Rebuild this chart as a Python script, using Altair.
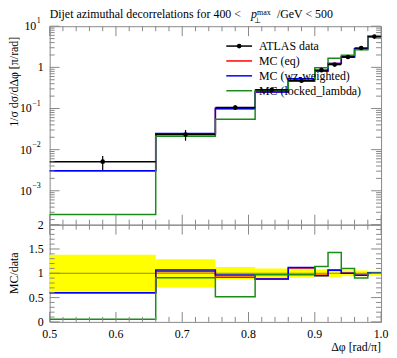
import altair as alt
import pandas as pd

# ---- data ----
edges = [0.5, 0.66, 0.75, 0.81, 0.86, 0.90, 0.92, 0.94, 0.96, 0.98, 1.0]
data_vals = [5.1e-3, 0.0232, 0.106, 0.285, 0.473, 0.855, 1.17, 1.79, 2.95, 5.6]
data_relerr = [0.38, 0.29, 0.13, 0.10, 0.09, 0.08, 0.08, 0.06, 0.06, 0.05]
mc_eq = [3.06e-3, 0.0241, 0.0975, 0.251, 0.525, 0.82, 1.25, 1.79, 2.83, 5.66]
mc_wz = [3.06e-3, 0.0248, 0.102, 0.251, 0.530, 0.81, 1.24, 1.79, 2.83, 5.66]
mc_locked = [2.65e-4, 0.0211, 0.055, 0.277, 0.459, 0.975, 1.67, 1.97, 2.66, 5.6]

series_names = ["MC (eq)", "MC (wz-weighted)", "MC (locked_lambda)"]
series_colors = ["#ff0000", "#0000ff", "#1a8c1a"]
series_vals = [mc_eq, mc_wz, mc_locked]

title_main = "Dijet azimuthal decorrelations for 400 < "
title_tail = "/GeV < 500"
ytitle_top = "1/σ dσ/dΔφ [π/rad]"
ytitle_bot = "MC/data"
xtitle = "Δφ [rad/π]"
legend_labels = ["ATLAS data"] + series_names
legend_colors = ["#000000"] + series_colors

x_major = [0.5, 0.6, 0.7, 0.8, 0.9, 1.0]
x_labels = ["0.5", "0.6", "0.7", "0.8", "0.9", "1.0"]
log_major = [10.0, 1.0, 1e-1, 1e-2, 1e-3]
log_base = ["10", "1", "10", "10", "10"]
log_sup = ["1", "", "−1", "−2", "−3"]
r_major = [0, 0.5, 1, 1.5, 2]
r_labels = ["0", "0.5", "1", "1.5", "2"]

# ---- styling ----
FONT = "Liberation Serif"
GRAY = "#888888"
W, H1, H2 = 334, 200, 98

lo = edges[:-1]
hi = edges[1:]
cen = [(a + b) / 2 for a, b in zip(lo, hi)]
dfd = pd.DataFrame({"lo": lo, "hi": hi, "c": cen, "v": data_vals, "re": data_relerr})
dfd["elo"] = dfd.v * (1 - dfd.re)
dfd["ehi"] = dfd.v * (1 + dfd.re)
dfd["rlo"] = 1 - dfd.re
dfd["rhi"] = 1 + dfd.re

rows = []
for name, vals in zip(series_names, series_vals):
    for i in range(len(lo)):
        rows.append({"s": name, "x": lo[i], "v": vals[i], "r": vals[i] / data_vals[i], "o": i})
    rows.append({"s": name, "x": edges[-1], "v": vals[-1], "r": vals[-1] / data_vals[-1], "o": len(lo)})
dfm = pd.DataFrame(rows)

xs = alt.Scale(domain=[0.5, 1.0], nice=False, zero=False)
ys_top = alt.Scale(type="log", domain=[1.5e-4, 10], nice=False)
ys_bot = alt.Scale(domain=[0, 2], nice=False, zero=False)
col = alt.Color("s:N", scale=alt.Scale(domain=series_names, range=series_colors), legend=None)

one = pd.DataFrame({"a": [0]})


def txt(s, x, y, size=12, style="normal", align="left", angle=0, baseline="alphabetic"):
    return alt.Chart(one).mark_text(
        text=s, font=FONT, fontSize=size, fontStyle=style, align=align,
        baseline=baseline, angle=angle, color="black"
    ).encode(x=alt.value(x), y=alt.value(y))


def ticks(xmaj, xmin, ymaj, ymin, yscale, h):
    out = []
    for vals, L in ((xmaj, 10), (xmin, 5)):
        d = pd.DataFrame({"t": vals})
        b = alt.Chart(d).mark_rule(color=GRAY, strokeWidth=1)
        out.append(b.encode(x=alt.X("t:Q", scale=xs, axis=None), y=alt.value(0), y2=alt.value(L)))
        out.append(b.encode(x=alt.X("t:Q", scale=xs, axis=None), y=alt.value(h - L), y2=alt.value(h)))
    for vals, L in ((ymaj, 10), (ymin, 5)):
        d = pd.DataFrame({"t": vals})
        b = alt.Chart(d).mark_rule(color=GRAY, strokeWidth=1)
        out.append(b.encode(y=alt.Y("t:Q", scale=yscale, axis=None), x=alt.value(0), x2=alt.value(L)))
        out.append(b.encode(y=alt.Y("t:Q", scale=yscale, axis=None), x=alt.value(W - L), x2=alt.value(W)))
    return out


x_minor = [round(0.5 + 0.02 * k, 2) for k in range(26) if k % 5 != 0]
log_minor = [m * 10.0 ** e for e in range(-4, 1) for m in range(2, 10) if 1.5e-4 <= m * 10.0 ** e <= 10]
r_minor = [round(0.1 * k, 1) for k in range(21) if k % 5 != 0]

# ---- top panel ----
mc_top = alt.Chart(dfm).mark_line(interpolate="step-after", strokeWidth=1.5).encode(
    x=alt.X("x:Q", scale=xs, axis=None),
    y=alt.Y("v:Q", scale=ys_top, axis=None),
    color=col, order="o:Q")

base_d = alt.Chart(dfd)
data_h = base_d.mark_rule(color="black", strokeWidth=1.5).encode(
    x=alt.X("lo:Q", scale=xs, axis=None), x2="hi:Q", y=alt.Y("v:Q", scale=ys_top, axis=None))
data_v = base_d.mark_rule(color="black", strokeWidth=1.2).encode(
    x=alt.X("c:Q", scale=xs, axis=None), y=alt.Y("elo:Q", scale=ys_top, axis=None), y2="ehi:Q")
data_p = base_d.mark_circle(color="black", size=22, opacity=1).encode(
    x=alt.X("c:Q", scale=xs, axis=None), y=alt.Y("v:Q", scale=ys_top, axis=None))

ylab_top = []
for v, b, s in zip(log_major, log_base, log_sup):
    d = alt.Chart(pd.DataFrame({"v": [v]}))
    if s:
        supw = 4 if len(s) == 1 else 8.5
        ylab_top.append(d.mark_text(text=s, font=FONT, fontSize=8, align="right", baseline="middle", dy=-5, color="black").encode(
            x=alt.value(-9), y=alt.Y("v:Q", scale=ys_top, axis=None)))
        bx = -9 - supw - 0.5
    else:
        bx = -6
    ylab_top.append(d.mark_text(text=b, font=FONT, fontSize=12, align="right", baseline="middle", color="black").encode(
        x=alt.value(bx), y=alt.Y("v:Q", scale=ys_top, axis=None)))

legend_layers = []
for i, (lab, c) in enumerate(zip(legend_labels, legend_colors)):
    yy = 20 + 15 * i
    legend_layers.append(alt.Chart(one).mark_rule(color=c, strokeWidth=1.5).encode(
        x=alt.value(178), x2=alt.value(204), y=alt.value(yy)))
    if i == 0:
        legend_layers.append(alt.Chart(one).mark_circle(color="black", size=22, opacity=1).encode(
            x=alt.value(191), y=alt.value(yy)))
    legend_layers.append(txt(lab, 211, yy, baseline="middle"))

title_layers = [
    txt(title_main, 0, -8),
    txt("p", 203, -8, style="italic"),
    txt("max", 209, -11.5, size=8),
    txt("⊥", 206, -3.5, size=8),
    txt(title_tail, 229, -8),
    txt(ytitle_top, -36, 56, align="center", angle=270, baseline="middle"),
]

top = alt.layer(
    mc_top, data_h, data_v, data_p,
    *ticks(x_major, x_minor, log_major, log_minor, ys_top, H1),
    *ylab_top, *legend_layers, *title_layers
).properties(width=W, height=H1)

# ---- ratio panel ----
band = base_d.mark_rect(color="#ffff00").encode(
    x=alt.X("lo:Q", scale=xs, axis=None), x2="hi:Q",
    y=alt.Y("rlo:Q", scale=ys_bot, axis=None), y2="rhi:Q")
unity = alt.Chart(pd.DataFrame({"r": [1]})).mark_rule(color="black", opacity=0.45, strokeWidth=1).encode(
    y=alt.Y("r:Q", scale=ys_bot, axis=None), x=alt.value(0), x2=alt.value(W))
mc_bot = alt.Chart(dfm).mark_line(interpolate="step-after", strokeWidth=1.5).encode(
    x=alt.X("x:Q", scale=xs, axis=None),
    y=alt.Y("r:Q", scale=ys_bot, axis=None),
    color=col, order="o:Q")

xlab = alt.Chart(pd.DataFrame({"t": x_major, "lab": x_labels})).mark_text(
    font=FONT, fontSize=12, align="center", baseline="middle", color="black").encode(
    x=alt.X("t:Q", scale=xs, axis=None), y=alt.value(H2 + 12), text="lab:N")
rlab = alt.Chart(pd.DataFrame({"t": r_major, "lab": r_labels})).mark_text(
    font=FONT, fontSize=12, align="right", baseline="middle", color="black").encode(
    y=alt.Y("t:Q", scale=ys_bot, axis=None), x=alt.value(-6), text="lab:N")

bottom = alt.layer(
    band, unity, mc_bot,
    *ticks(x_major, x_minor, r_major, r_minor, ys_bot, H2),
    xlab, rlab,
    txt(ytitle_bot, -36, 49, align="center", angle=270, baseline="middle"),
    txt(xtitle, W, 123, align="right", baseline="middle"),
).properties(width=W, height=H2)

chart = alt.vconcat(top, bottom, spacing=0, bounds="flush").properties(
    padding={"left": -1, "top": -2, "right": 0, "bottom": 0}
).configure_view(stroke=GRAY, strokeWidth=1)

chart.save("out.html", embed_options={"renderer": "svg", "actions": False})
